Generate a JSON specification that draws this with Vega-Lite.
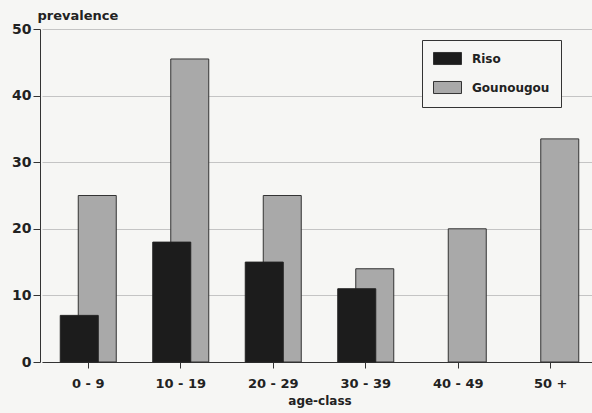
{
  "$schema": "https://vega.github.io/schema/vega-lite/v6.json",
  "autosize": {"type": "none"},
  "padding": {"left": 40, "top": 29, "right": 0, "bottom": 51},
  "width": 552,
  "height": 333,
  "background": "#f6f6f4",
  "data": {
    "values": [
      {"age": "0 - 9", "site": "Riso", "prev": 7},
      {"age": "10 - 19", "site": "Riso", "prev": 18},
      {"age": "20 - 29", "site": "Riso", "prev": 15},
      {"age": "30 - 39", "site": "Riso", "prev": 11},
      {"age": "0 - 9", "site": "Gounougou", "prev": 25},
      {"age": "10 - 19", "site": "Gounougou", "prev": 45.5},
      {"age": "20 - 29", "site": "Gounougou", "prev": 25},
      {"age": "30 - 39", "site": "Gounougou", "prev": 14},
      {"age": "40 - 49", "site": "Gounougou", "prev": 20},
      {"age": "50 +", "site": "Gounougou", "prev": 33.5}
    ]
  },
  "encoding": {
    "x": {
      "field": "age", "type": "nominal",
      "sort": ["0 - 9", "10 - 19", "20 - 29", "30 - 39", "40 - 49", "50 +"],
      "scale": {"domain": ["0 - 9", "10 - 19", "20 - 29", "30 - 39", "40 - 49", "50 +"], "paddingInner": 0, "paddingOuter": 0, "range": [2, 557]},
      "axis": {
        "title": "age-class", "labelAngle": 0, "tickSize": 6, "labelPadding": 9,
        "labelFont": "DejaVu Sans", "labelFontWeight": "bold", "labelFontSize": 13, "labelColor": "#222",
        "titleFont": "DejaVu Sans", "titleFontWeight": "bold", "titleFontSize": 12, "titleColor": "#222", "titlePadding": 5,
        "domainColor": "#333", "tickColor": "#333", "grid": false
      }
    },
    "y": {
      "field": "prev", "type": "quantitative",
      "scale": {"domain": [0, 50], "nice": false},
      "axis": {
        "title": "prevalence", "values": [0, 10, 20, 30, 40, 50], "tickSize": 7, "labelPadding": 2,
        "labelFont": "DejaVu Sans", "labelFontWeight": "bold", "labelFontSize": 14, "labelColor": "#222",
        "titleFont": "DejaVu Sans", "titleFontWeight": "bold", "titleFontSize": 13, "titleColor": "#222",
        "titleAngle": 0, "titleAlign": "left", "titleBaseline": "alphabetic", "titleX": -3, "titleY": -10,
        "domainColor": "#333", "tickColor": "#333", "grid": true, "gridColor": "#c4c4c4", "gridWidth": 1
      }
    },
    "color": {
      "field": "site", "type": "nominal",
      "scale": {"domain": ["Riso", "Gounougou"], "range": ["#1c1c1c", "#a9a9a9"]},
      "legend": {
        "title": null, "orient": "none", "legendX": 382, "legendY": 11,
        "strokeColor": "#333", "padding": 11, "fillColor": "#f6f6f4",
        "symbolType": "M-2,-0.86H2V0.86H-2Z", "symbolSize": 196, "symbolStrokeColor": "#333", "symbolStrokeWidth": 1,
        "symbolOffset": 7,
        "labelFont": "DejaVu Sans", "labelFontWeight": "bold", "labelFontSize": 12, "labelColor": "#222",
        "labelOffset": 17, "rowPadding": 12
      }
    }
  },
  "layer": [
    {
      "transform": [{"filter": "datum.site === 'Gounougou'"}],
      "mark": {"type": "bar", "width": 38, "xOffset": 9, "stroke": "#333", "strokeWidth": 1}
    },
    {
      "transform": [{"filter": "datum.site === 'Riso'"}],
      "mark": {"type": "bar", "width": 38, "xOffset": -9, "stroke": "#222", "strokeWidth": 1}
    }
  ],
  "config": {"view": {"stroke": null}}
}
